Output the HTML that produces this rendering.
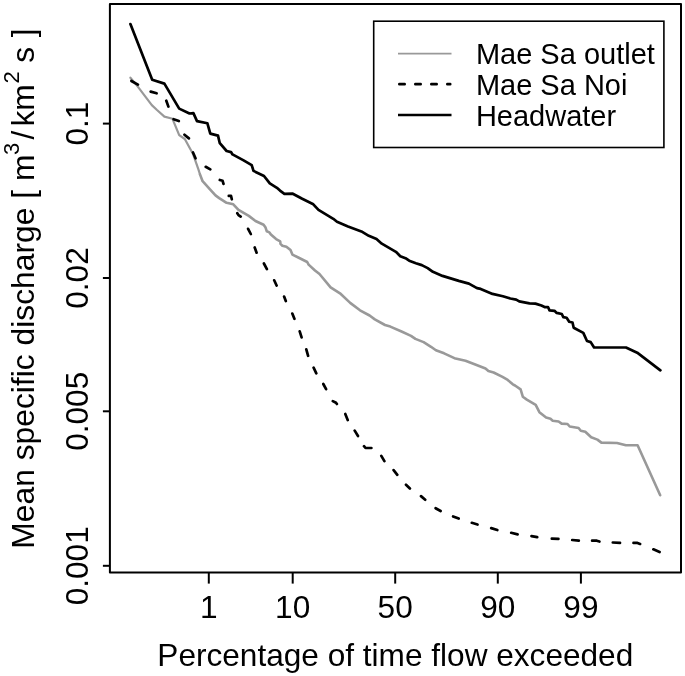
<!DOCTYPE html>
<html lang="en"><head><meta charset="utf-8"><title>Flow duration curves</title>
<style>
html,body{margin:0;padding:0;background:#fff}
svg{display:block;filter:grayscale(1)}
text{font-family:"Liberation Sans",Arial,Helvetica,sans-serif;fill:#000}
.ax{font-size:31.6px}
.sup{font-size:22px}
.lg{font-size:29px}
</style></head><body>
<svg width="685" height="676" viewBox="0 0 685 676">
<rect x="0" y="0" width="685" height="676" fill="#fff"/>
<!-- curves -->
<polyline points="130.4,77.7 137.8,86.6 151.8,105.1 157.0,110.0 164.4,116.6 172.5,118.8 179.2,135.1 184.8,139.0 192.9,153.7 198.4,169.4 200.0,174.4" fill="none" stroke="#999" stroke-width="2.2" stroke-linejoin="round" stroke-linecap="round"/>
<polyline points="200.0,174.4 202.6,181.2 210.0,189.3 215.5,195.4 219.2,198.1 226.6,202.8 233.3,204.3 238.5,209.9 248.8,215.9 255.5,221.0 263.6,224.7 265.4,227.2 266.8,231.3 269.4,232.4 270.9,234.6 276.1,239.1 280.2,241.3 280.5,243.9 282.4,245.7 286.4,246.8 290.5,250.1 292.4,254.6 298.3,257.5 307.2,262.0 308.6,264.6 315.0,270.5 319.5,274.0 330.6,287.3 340.0,293.3 350.2,302.9 360.0,310.3 369.6,315.5 374.8,319.4 385.0,325.0 390.3,326.6 402.1,331.8 411.0,335.9 415.4,338.9 423.6,342.1 431.0,346.8 435.9,350.3 444.1,353.3 454.4,358.2 465.5,360.7 475.9,364.7 485.5,368.5 488.4,371.0 493.6,372.5 502.5,376.9 507.7,379.9 512.8,384.3 515.0,385.5 520.6,389.4 522.8,396.7 526.8,399.6 535.7,404.8 539.4,412.2 546.1,417.6 550.5,418.8 552.7,420.7 558.6,421.5 561.6,423.6 567.5,424.0 569.7,426.5 578.6,428.0 580.8,430.7 585.3,431.8 591.2,437.3 597.4,439.6 601.4,442.6 617.0,443.0 625.9,445.3 637.6,445.3 660.2,495.2" fill="none" stroke="#999" stroke-width="2.6" stroke-linejoin="round" stroke-linecap="round"/>
<path d="M131.4 81.0 L137.9 84.7 M150.7 91.6 L156.6 93.3 M166.3 100.7 L168.4 106.6 M173.6 119.2 L178.8 121.1 M184.5 134.7 L188.9 138.4 M193.0 152.5 L195.5 158.3 M205.7 166.8 L210.3 169.4 M219.8 180.0 L222.6 180.8 L223.5 183.9 M228.8 195.9 L231.0 195.8 L231.8 199.3 M237.3 213.2 L238.5 215.1 L240.7 216.6 M248.1 228.8 L250.8 234.0 M254.7 247.5 L256.6 252.7 M263.9 263.5 L266.9 269.1 M274.2 280.3 L276.6 285.5 M284.1 296.6 L285.8 301.0 M292.3 313.6 L294.4 318.8 M299.7 331.3 L301.6 337.4 M306.3 349.3 L308.1 355.8 M313.6 367.7 L316.3 373.3 M323.3 384.0 L326.1 389.2 M332.8 401.1 L336.0 402.8 L336.9 404.0 M345.3 414.0 L347.7 420.0 M354.7 430.6 L358.0 436.0 M364.0 446.2 L365.5 448.0 L371.4 448.0 M381.3 455.8 L384.4 461.2 M393.6 470.1 L397.3 474.8 M406.0 484.7 L409.9 488.5 M421.0 496.1 L425.2 499.7 M435.6 508.2 L440.6 511.0 M453.1 516.4 L458.7 518.6 M471.8 522.8 L477.5 524.5 M491.2 528.1 L497.3 530.0 M511.2 532.8 L517.6 534.4 M531.5 536.1 L537.2 537.2 M551.8 538.7 L558.4 538.9 M572.2 540.0 L578.8 540.6 M592.1 540.7 L596.8 540.7 L599.4 541.5 M612.8 542.5 L620.0 542.9 M633.5 542.9 L637.5 542.9 L640.1 543.9 M653.4 549.3 L659.6 552.0" fill="none" stroke="#000" stroke-width="2.7" stroke-linejoin="round" stroke-linecap="round"/>
<polyline points="130.4,24.1 152.2,79.8 164.4,83.6 179.2,108.6 189.5,113.5 193.4,113.1 197.0,121.1 207.4,123.3 210.3,133.6 218.0,135.6 219.8,143.2 226.6,151.0 231.0,152.1 232.5,154.4 243.6,160.4 251.7,165.1 253.5,170.9 264.0,176.0 269.8,183.4 276.9,187.8 280.0,190.6 284.4,193.8 292.8,193.7 302.2,198.8 313.3,204.3 318.5,209.9 333.3,218.8 337.0,221.8 348.0,226.5 361.4,231.4 368.8,235.8 376.5,239.1 381.8,243.7 395.9,251.8 400.3,256.2 405.5,258.2 409.2,260.7 415.9,263.3 421.8,265.1 427.7,268.1 432.9,271.8 442.5,275.9 458.8,280.9 468.9,283.6 477.0,288.2 480.7,288.9 492.5,293.9 502.9,296.2 510.3,298.5 516.2,299.6 519.2,301.3 529.5,303.3 535.4,303.6 541.4,305.5 545.1,307.2 548.0,307.0 549.5,310.4 554.5,310.8 556.7,312.9 561.8,314.0 563.3,317.1 566.6,317.8 569.2,321.8 572.5,322.5 573.7,327.7 583.3,332.9 587.0,341.0 590.7,342.1 594.1,347.5 626.0,347.5 637.2,352.7 660.4,370.3" fill="none" stroke="#000" stroke-width="2.7" stroke-linejoin="round" stroke-linecap="round"/>
<!-- plot box -->
<rect x="109.9" y="3.9" width="571.1" height="568.7" fill="none" stroke="#000" stroke-width="2" stroke-linejoin="round"/>
<!-- ticks -->
<g stroke="#000" stroke-width="2" stroke-linecap="butt">
<line x1="208.8" y1="572.6" x2="208.8" y2="583.6"/>
<line x1="292.7" y1="572.6" x2="292.7" y2="583.6"/>
<line x1="395.2" y1="572.6" x2="395.2" y2="583.6"/>
<line x1="497.8" y1="572.6" x2="497.8" y2="583.6"/>
<line x1="580.9" y1="572.6" x2="580.9" y2="583.6"/>
<line x1="109.9" y1="123.6" x2="102.9" y2="123.6"/>
<line x1="109.9" y1="278.0" x2="102.9" y2="278.0"/>
<line x1="109.9" y1="411.3" x2="102.9" y2="411.3"/>
<line x1="109.9" y1="565.8" x2="102.9" y2="565.8"/>
</g>
<g class="ax" text-anchor="middle">
<text x="208.8" y="617.6">1</text>
<text x="292.7" y="617.6">10</text>
<text x="395.2" y="617.6">50</text>
<text x="497.8" y="617.6">90</text>
<text x="580.9" y="617.6">99</text>
<text transform="translate(87.6 123.6) rotate(-90)">0.1</text>
<text transform="translate(87.6 278.0) rotate(-90)">0.02</text>
<text transform="translate(87.6 411.3) rotate(-90)">0.005</text>
<text transform="translate(87.6 565.8) rotate(-90)">0.001</text>
<text x="395.3" y="666.4">Percentage of time flow exceeded</text>
</g>
<g class="ax" style="font-size:31.8px">
<text transform="translate(34 548.7) rotate(-90)">Mean specific discharge [ m</text>
<text class="sup" transform="translate(19.2 155) rotate(-90)">3</text>
<text transform="translate(34 139.4) rotate(-90)">/</text>
<text transform="translate(34 126.6) rotate(-90)">km</text>
<text class="sup" transform="translate(19.2 83.6) rotate(-90)">2</text>
<text transform="translate(34 62.8) rotate(-90)">s</text>
<text transform="translate(34 37.2) rotate(-90)">]</text>
</g>
<rect x="373.7" y="21.2" width="290.2" height="126.3" fill="#fff" stroke="#000" stroke-width="1.6"/>
<line x1="398" y1="53.7" x2="451.5" y2="53.7" stroke="#999" stroke-width="1.7"/>
<line x1="399.35" y1="84.2" x2="450.2" y2="84.2" stroke="#000" stroke-width="2.7" stroke-dasharray="5.3 10.7" stroke-linecap="round"/>
<line x1="398" y1="115" x2="451.5" y2="115" stroke="#000" stroke-width="2.6"/>
<g class="lg">
<text x="475.9" y="63.6">Mae Sa outlet</text>
<text x="475.9" y="94.5">Mae Sa Noi</text>
<text x="475.9" y="125.5">Headwater</text>
</g>
</svg>
</body></html>
